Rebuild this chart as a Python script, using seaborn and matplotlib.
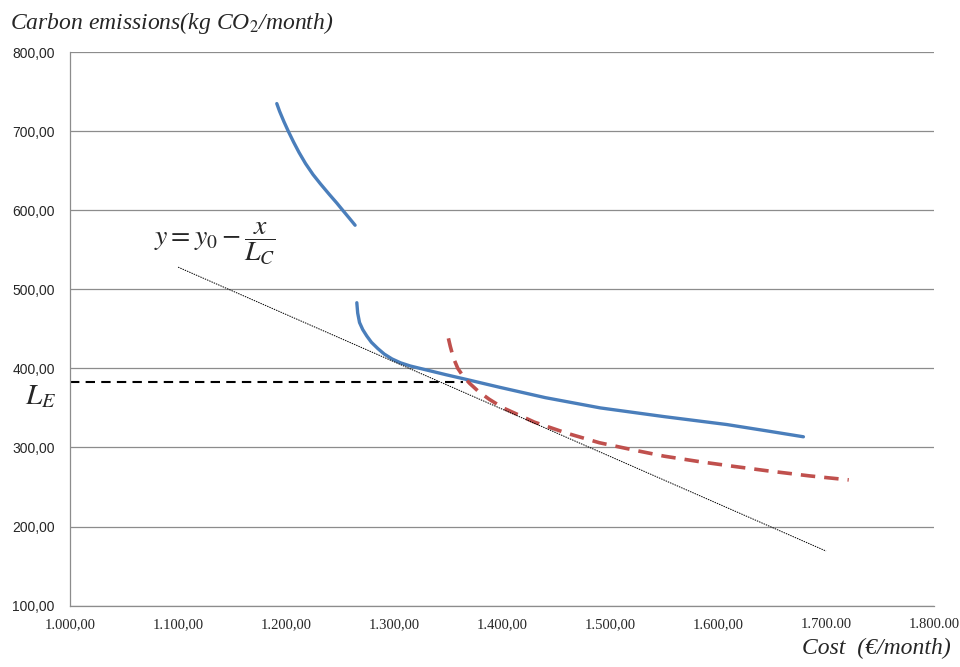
import numpy as np
import pandas as pd
import seaborn as sns
import matplotlib.pyplot as plt
from matplotlib.ticker import FixedLocator

# curves
blue_upper_x = [1191.4, 1194, 1198, 1202, 1207, 1212, 1218, 1225, 1232, 1240, 1247, 1253, 1258.5, 1263.9]
blue_upper_y = [734.8, 725, 712, 700, 686, 673, 659, 645, 633, 620, 609, 599, 590, 581]

blue_lower_x = [1265.5, 1266.3, 1268, 1271, 1274.7, 1279, 1285, 1291, 1298, 1306, 1315, 1330,
                1348, 1367, 1398, 1440, 1491, 1550, 1608, 1645, 1679]
blue_lower_y = [483, 470, 458, 449, 441, 433, 425, 418, 412, 407, 403, 398,
                392, 386, 376, 363, 350, 339, 329, 321, 313.5]

red_x = [1350.3, 1352, 1355, 1359, 1364, 1370, 1378, 1388, 1401, 1430, 1460, 1490, 1521, 1550,
         1583, 1615, 1645, 1685, 1721]
red_y = [438, 428, 413, 400, 390, 381, 371, 361, 350, 332, 318, 306, 297, 289,
         282, 276, 270.6, 264, 259]

tangent_x = [1100, 1700]
tangent_y = [528, 169]

le_x = [1000, 1364]
le_y = [383, 383]

x_ticks = [1000, 1100, 1200, 1300, 1400, 1500, 1600, 1700, 1800]
x_tick_labels = ["1.000,00", "1.100,00", "1.200,00", "1.300,00", "1.400,00",
                 "1.500,00", "1.600,00", "1.700.00", "1.800.00"]
y_ticks = [100, 200, 300, 400, 500, 600, 700, 800]
y_tick_labels = ["100,00", "200,00", "300,00", "400,00", "500,00", "600,00", "700,00", "800,00"]

sns.set_style("white")
plt.rcParams['font.family'] = ['Liberation Serif', 'DejaVu Sans']
plt.rcParams['mathtext.fontset'] = 'stix'

fig, ax = plt.subplots(figsize=(9.6, 6.67), dpi=100)
fig.subplots_adjust(left=0.073, right=0.973, top=0.922, bottom=0.092)

blue = "#4a7ebb"
red = "#c0504d"

for gy in y_ticks:
    ax.axhline(gy, color="#8c8c8c", lw=0.9, zorder=0)

sns.lineplot(x=blue_upper_x, y=blue_upper_y, sort=False, color=blue, lw=2.4, ax=ax)
sns.lineplot(x=blue_lower_x, y=blue_lower_y, sort=False, color=blue, lw=2.4, ax=ax)
sns.lineplot(x=red_x, y=red_y, sort=False, color=red, lw=2.6, ax=ax,
             linestyle=(0, (4, 2.5)))
sns.lineplot(x=tangent_x, y=tangent_y, sort=False, color="black", lw=0.7, ax=ax,
             linestyle=(0, (1.5, 1)))
sns.lineplot(x=le_x, y=le_y, sort=False, color="black", lw=1.5, ax=ax,
             linestyle=(0, (4.5, 3)))

ax.set_xlim(1000, 1800)
ax.set_ylim(100, 800)
ax.xaxis.set_major_locator(FixedLocator(x_ticks))
ax.set_xticklabels(x_tick_labels, fontsize=10.5)
ax.yaxis.set_major_locator(FixedLocator(y_ticks))
ax.set_yticklabels(y_tick_labels, fontsize=10, family=["Liberation Sans", "DejaVu Sans"])
ax.tick_params(axis="both", length=4, width=0.9, color="#8c8c8c", direction="out")
ax.tick_params(axis="x", pad=5)
ax.tick_params(axis="y", pad=7)

for side in ["top", "right"]:
    ax.spines[side].set_visible(False)
for side in ["left", "bottom"]:
    ax.spines[side].set_color("#8c8c8c")
    ax.spines[side].set_linewidth(0.9)

fig.text(0.010, 0.966, r"Carbon emissions(kg CO$_2$/month)", fontsize=17, style="italic",
         ha="left", va="center")
fig.text(0.990, 0.012, "Cost  (\u20ac/month)", fontsize=17, style="italic",
         ha="right", va="bottom")

fig.text(0.026, 0.405, r"$L_E$", fontsize=21, ha="left", va="center")
ax.text(1078, 557, r"$y = y_0 - \dfrac{x}{L_C}$", fontsize=20, ha="left", va="center")

fig.savefig("out.png", dpi=100)
